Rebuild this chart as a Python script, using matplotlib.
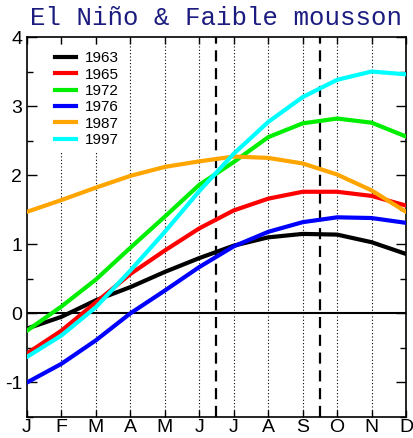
import matplotlib
matplotlib.use("Agg")
import matplotlib.pyplot as plt

months = ["J", "F", "M", "A", "M", "J", "J", "A", "S", "O", "N", "D"]

y1963 = [-0.22, -0.05, 0.19, 0.38, 0.60, 0.80, 0.98, 1.10, 1.15, 1.14, 1.03, 0.86]
y1965 = [-0.58, -0.25, 0.16, 0.57, 0.91, 1.23, 1.49, 1.66, 1.76, 1.76, 1.70, 1.56]
y1972 = [-0.25, 0.10, 0.49, 0.95, 1.40, 1.86, 2.19, 2.55, 2.75, 2.82, 2.76, 2.56]
y1976 = [-1.00, -0.73, -0.39, 0.00, 0.33, 0.67, 0.97, 1.18, 1.32, 1.39, 1.38, 1.31]
y1987 = [1.47, 1.64, 1.82, 1.99, 2.12, 2.20, 2.27, 2.25, 2.17, 2.01, 1.78, 1.47]
y1997 = [-0.63, -0.32, 0.09, 0.62, 1.18, 1.77, 2.31, 2.77, 3.13, 3.38, 3.50, 3.46]

series = [("1963", y1963, "black"), ("1965", y1965, "red"),
          ("1972", y1972, "#00ee00"), ("1976", y1976, "blue"),
          ("1987", y1987, "orange"), ("1997", y1997, "cyan")]

plt.rcParams['font.family'] = ['Liberation Sans', 'DejaVu Sans']
plt.rcParams['axes.unicode_minus'] = False

fig = plt.figure(figsize=(4.14, 4.38), dpi=100)
ax = fig.add_axes([27/414, 21/438, 379/414, 380/438])

x = list(range(12))
for m in range(1, 11):
    ax.axvline(m, color="black", lw=0.8, ls=(0, (1, 2)), zorder=1)
ax.axhline(0, color="black", lw=1.5, zorder=2)
ax.axvline(5.5, color="black", lw=1.6, ls=(0, (5, 3)), zorder=2)
ax.axvline(8.5, color="black", lw=1.6, ls=(0, (5, 3)), zorder=2)

for name, ys, c in series:
    ax.plot(x, ys, color=c, lw=3, label=name, zorder=3)

ax.set_xlim(0, 11)
ax.set_ylim(-1.5, 4)
ax.set_xticks(x)
ax.set_xticklabels(months)
ax.set_yticks([-1, 0, 1, 2, 3, 4])
ax.set_yticks([-1.5, -0.5, 0.5, 1.5, 2.5, 3.5], minor=True)
ax.tick_params(direction="in", top=True, right=True, labelsize=14, length=7, width=1)
ax.tick_params(which="minor", direction="in", right=True, length=4, width=1)
ax.tick_params(axis="x", length=5, pad=1.5)
for s in ax.spines.values():
    s.set_linewidth(1.2)

leg = ax.legend(loc="upper left", fontsize=11, frameon=True, handlelength=1.4,
                handletextpad=0.6, borderaxespad=0.3, labelspacing=0.15,
                bbox_to_anchor=(0.045, 0.99))
leg.get_frame().set_edgecolor("none")
leg.get_frame().set_facecolor("white")
leg.get_frame().set_alpha(1)
leg.set_zorder(5)

fig.text(216/414, 1 - 18/438, "El Niño & Faible mousson", ha="center", va="center",
         family="Liberation Mono", fontsize=18.5, color="#1c1c80")

fig.savefig("out.png", dpi=100)
